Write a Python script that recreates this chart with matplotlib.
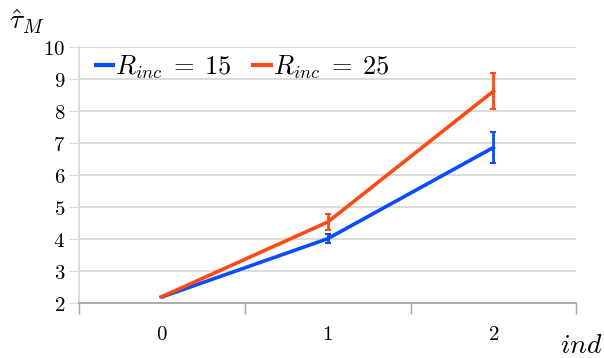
import numpy as np
import matplotlib
matplotlib.use("Agg")
import matplotlib.pyplot as plt
from matplotlib.lines import Line2D
from matplotlib.ticker import FixedLocator, FuncFormatter

plt.rcParams['mathtext.fontset'] = 'cm'

# data
categories = [0, 1, 2]
tau_15 = [2.18, 4.0, 6.85]
err_15 = [0.0, 0.15, 0.48]
tau_25 = [2.19, 4.52, 8.61]
err_25 = [0.0, 0.25, 0.57]
y_ticks = [2, 3, 4, 5, 6, 7, 8, 9, 10]
labels = [r'$R_{inc}\;=\;15$', r'$R_{inc}\;=\;25$']

blue = '#0a4cff'
orange = '#ff4a14'
grid_c = '#d9d9d9'
axis_c = '#a6a6a6'

fig = plt.figure(figsize=(6.04, 3.58), dpi=100)
ax = fig.add_axes([0.131, 0.1545, 0.823, 0.715])

x = np.array(categories)
ax.errorbar(x, tau_15, yerr=err_15, color=blue, lw=2.6, elinewidth=2,
            capsize=2.5, capthick=1.5, zorder=3)
ax.errorbar(x, tau_25, yerr=err_25, color=orange, lw=2.6, elinewidth=2,
            capsize=2.5, capthick=1.5, zorder=3)

ax.set_xlim(-0.5, 2.5)
ax.set_ylim(2, 10)

# y axis
ax.set_yticks(y_ticks)
ax.yaxis.set_major_formatter(FuncFormatter(lambda v, p: f'${v:g}$'))
ax.tick_params(axis='y', length=7, color=grid_c, labelsize=15, pad=3)
ax.grid(axis='y', color=grid_c, lw=1.3, zorder=0)

# x axis: boundary ticks, labels in the middle
ax.xaxis.set_major_locator(FixedLocator([-0.5, 0.5, 1.5, 2.5]))
ax.xaxis.set_major_formatter(FuncFormatter(lambda v, p: ''))
ax.xaxis.set_minor_locator(FixedLocator(categories))
ax.xaxis.set_minor_formatter(FuncFormatter(lambda v, p: f'${v:g}$'))
ax.tick_params(axis='x', which='major', length=8, color=axis_c, width=1)
ax.tick_params(axis='x', which='minor', length=0, labelsize=15, pad=15)

for s in ['top', 'right']:
    ax.spines[s].set_visible(False)
ax.spines['left'].set_color(grid_c)
ax.spines['left'].set_linewidth(1.3)
ax.spines['bottom'].set_color(axis_c)
ax.spines['bottom'].set_linewidth(1.3)

fig.text(0.015, 0.94, r'$\hat{\tau}_M$', fontsize=20, ha='left', va='center')
fig.text(0.998, 0.035, r'$ind$', fontsize=20, ha='right', va='center')

handles = [Line2D([], [], color=blue, lw=3), Line2D([], [], color=orange, lw=3)]
ax.legend(handles, labels, loc='upper left', ncol=2, frameon=False, fontsize=19,
          handlelength=0.65, handletextpad=0.1, columnspacing=0.8,
          bbox_to_anchor=(0.012, 1.015), borderaxespad=0)

fig.savefig('out.png', dpi=100)
